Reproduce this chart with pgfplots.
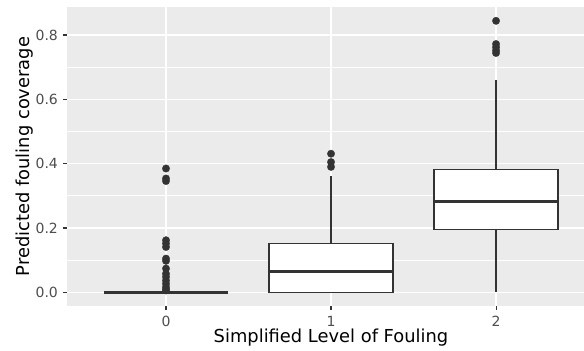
\documentclass[border=0pt]{standalone}
\usepackage{fontspec}
\setmainfont{DejaVu Sans}
\usepackage{pgfplots}
\pgfplotsset{compat=1.18}
\usepgfplotslibrary{statistics}
\definecolor{panelbg}{HTML}{EBEBEB}
\definecolor{dk}{HTML}{333333}
\definecolor{ticklab}{HTML}{4D4D4D}
\begin{document}
\begin{tikzpicture}
\begin{axis}[
  scale only axis, width=387.75pt, height=224.25pt,
  xmin=-0.6, xmax=2.533, ymin=-0.0423, ymax=0.887,
  axis background/.style={fill=panelbg},
  axis line style={draw=none},
  xtick={0,1,2}, ytick={0,0.2,0.4,0.6,0.8}, minor ytick={0.1,0.3,0.5,0.7},
  xtick pos=left, ytick pos=left,
  yticklabel style={/pgf/number format/fixed, /pgf/number format/fixed zerofill, /pgf/number format/precision=1},
  /pgf/number format/assume math mode=true,
  grid=both,
  major grid style={white, line width=1.1pt},
  minor grid style={white, line width=0.55pt},
  tick style={dk, line width=0.8pt},
  tick align=outside, major tick length=3.3pt, minor tick length=0pt,
  ticklabel style={font=\fontsize{10.5}{12}\selectfont, text=ticklab},
  xticklabel style={yshift=-1pt},
  xlabel={Simplified Level of Fouling},
  ylabel={Predicted fouling coverage},
  label style={font=\fontsize{13.4}{15}\selectfont, text=black},
  xlabel style={at={(axis description cs:0.5106,-0.122)}, anchor=base},
  ylabel style={at={(axis description cs:-0.0725,0.5)}, anchor=base},
  boxplot/draw direction=y,
  boxplot/every box/.style={draw=dk, fill=white, line width=1pt},
  boxplot/every whisker/.style={draw=dk, line width=1pt},
  boxplot/every median/.style={draw=dk, line width=2.3pt},
]
\addplot[boxplot prepared={draw position=0, lower whisker=0, lower quartile=0, median=0, upper quartile=0, upper whisker=0, box extend=0.75, whisker extend=0},
  draw=dk, fill=white, line width=1pt, mark=*, mark size=2.8pt, mark options={solid, fill=dk, draw=dk, line width=0.2pt}]
  coordinates {(0,0.385) (0,0.354) (0,0.346) (0,0.162) (0,0.152) (0,0.141) (0,0.105) (0,0.098) (0,0.074) (0,0.058) (0,0.048) (0,0.037) (0,0.027) (0,0.017) (0,0.010) (0,0.006)};
\addplot[boxplot prepared={draw position=1, lower whisker=0, lower quartile=0, median=0.066, upper quartile=0.151, upper whisker=0.361, box extend=0.75, whisker extend=0},
  draw=dk, fill=white, line width=1pt, mark=*, mark size=2.8pt, mark options={solid, fill=dk, draw=dk, line width=0.2pt}]
  coordinates {(1,0.431) (1,0.405) (1,0.390)};
\addplot[boxplot prepared={draw position=2, lower whisker=0, lower quartile=0.195, median=0.283, upper quartile=0.382, upper whisker=0.659, box extend=0.75, whisker extend=0},
  draw=dk, fill=white, line width=1pt, mark=*, mark size=2.8pt, mark options={solid, fill=dk, draw=dk, line width=0.2pt}]
  coordinates {(2,0.844) (2,0.772) (2,0.762) (2,0.752) (2,0.744)};
\end{axis}
\pgfresetboundingbox
\path ([shift={(-50.25pt,-33.75pt)}]current axis.south west) rectangle ([shift={(0pt,5.25pt)}]current axis.north east);
\end{tikzpicture}
\end{document}
